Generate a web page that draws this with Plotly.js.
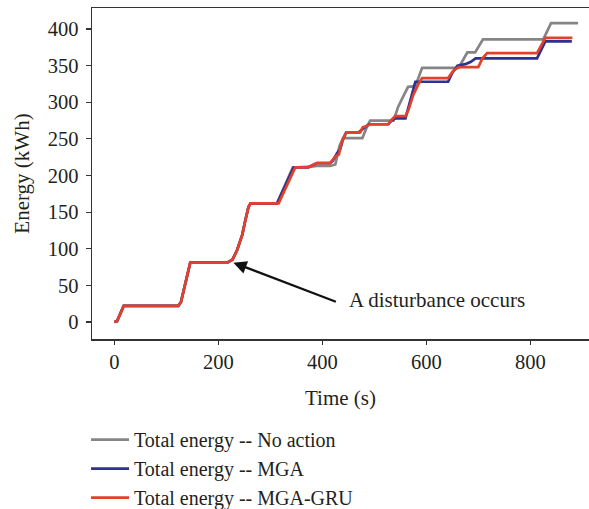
<!DOCTYPE html>
<html>
<head>
<meta charset="utf-8">
<script src="https://cdn.plot.ly/plotly-3.0.1.min.js"></script>
<style>html,body{margin:0;padding:0;background:#fff;}#chart{width:589px;height:509px;}</style>
</head>
<body>
<div id="chart"></div>
<script>
// Time (s) and energy (kWh)
const noActionT = [0, 5, 18, 123, 128, 146, 217, 227, 236, 246, 252, 258, 262, 313, 343, 373, 378, 390, 415, 425, 433, 440, 477, 485, 492, 537, 546, 555, 565, 579, 592, 662, 679, 694, 709, 825, 840, 892];
const noActionE = [0, 1, 22, 22, 27, 81, 81, 85, 98, 119, 139, 157, 162, 162, 211, 211, 212, 213, 213, 215, 240, 251, 251, 265, 275, 275, 294, 307, 321, 322, 347, 347, 368, 368, 386, 386, 408, 408];

const mgaT = [0, 5, 18, 123, 128, 146, 217, 227, 236, 246, 252, 258, 262, 313, 345, 373, 378, 390, 415, 420, 428, 435, 440, 446, 470, 476, 482, 490, 527, 533, 540, 560, 570, 579, 642, 650, 660, 675, 685, 695, 813, 829, 880];
const mgaE = [0, 1, 22, 22, 27, 81, 81, 85, 98, 119, 139, 157, 162, 162, 211, 211, 213, 217, 217, 220, 230, 237, 250, 259, 259, 263, 266, 270, 270, 275, 278, 278, 305, 328, 328, 340, 350, 352, 355, 360, 360, 383, 383];

const mgaGruT = [0, 5, 18, 123, 128, 146, 217, 227, 236, 246, 252, 258, 262, 316, 348, 373, 378, 390, 415, 420, 425, 432, 437, 446, 473, 478, 483, 492, 527, 533, 540, 560, 566, 575, 585, 592, 642, 652, 662, 700, 708, 717, 813, 829, 881];
const mgaGruE = [0, 1, 22, 22, 27, 81, 81, 85, 98, 119, 139, 157, 162, 162, 211, 211, 213, 217, 217, 221, 226, 229, 245, 259, 259, 266, 267, 270, 270, 276, 281, 281, 290, 310, 325, 333, 333, 343, 348, 348, 360, 367, 367, 388, 388];

const seriesNames = ["Total energy -- No action", "Total energy -- MGA", "Total energy -- MGA-GRU"];
const xTicks = [0, 200, 400, 600, 800];
const yTicks = [0, 50, 100, 150, 200, 250, 300, 350, 400];
const annotationText = "A disturbance occurs";
const arrowHead = [229, 81];
const arrowTail = [429, 27];
const textAt = [448, 30];

const FONT = "Liberation Serif, Times New Roman, serif";
const TXT = "#231f20";
const FS = 21;

const traces = [
  {x: noActionT, y: noActionE, name: seriesNames[0], mode: "lines", line: {color: "#858585", width: 2.7}},
  {x: mgaT, y: mgaE, name: seriesNames[1], mode: "lines", line: {color: "#2e3192", width: 2.7}},
  {x: mgaGruT, y: mgaGruE, name: seriesNames[2], mode: "lines", line: {color: "#e2412b", width: 2.7}}
];

const layout = {
  width: 589, height: 509,
  margin: {l: 92, r: 0, t: 8, b: 170, autoexpand: false},
  paper_bgcolor: "#ffffff", plot_bgcolor: "#ffffff",
  font: {family: FONT, size: FS, color: TXT},
  showlegend: true,
  legend: {x: -0.012, xanchor: "left", y: -0.245, yanchor: "top", orientation: "v", itemwidth: 38,
           font: {family: FONT, size: 20, color: TXT}, bgcolor: "rgba(0,0,0,0)", tracegroupgap: 0},
  xaxis: {
    range: [-43, 913], tickvals: xTicks, ticktext: xTicks.map(String),
    showgrid: false, zeroline: false, showline: true, linecolor: "#333333", linewidth: 1.5,
    mirror: false, ticks: "outside", ticklen: 4, tickwidth: 1.2, tickcolor: "#333333",
    tickfont: {family: FONT, size: 20.5, color: TXT},
    title: {text: "Time (s)", font: {family: FONT, size: FS, color: TXT}, standoff: 18}
  },
  xaxis2: {overlaying: "x", side: "top", showline: true, linecolor: "#333333", linewidth: 1.5,
           showticklabels: false, ticks: "", showgrid: false, zeroline: false, range: [-43, 913]},
  yaxis: {
    range: [-23.2, 428.7], tickvals: yTicks, ticktext: yTicks.map(String),
    showgrid: false, zeroline: false, showline: true, linecolor: "#333333", linewidth: 1.5,
    ticks: "outside", ticklen: 5, tickwidth: 1.2, tickcolor: "#333333", ticklabelstandoff: 3,
    tickfont: {family: FONT, size: 20.5, color: TXT},
    title: {text: "Energy (kWh)", font: {family: FONT, size: FS, color: TXT}, standoff: 12}
  },
  annotations: [
    {x: arrowHead[0], y: arrowHead[1], ax: arrowTail[0], ay: arrowTail[1], axref: "x", ayref: "y",
     xref: "x", yref: "y", text: "", showarrow: true, arrowhead: 2, arrowsize: 1.2, arrowwidth: 2.2,
     arrowcolor: "#111111", standoff: 0},
    {x: textAt[0], y: textAt[1], xref: "x", yref: "y", text: annotationText, showarrow: false,
     xanchor: "left", yanchor: "middle", font: {family: FONT, size: FS, color: TXT}}
  ]
};

// an invisible trace on the top axis so its frame line is drawn
traces.push({x: [0], y: [0], xaxis: "x2", yaxis: "y", mode: "markers", marker: {opacity: 0}, showlegend: false, hoverinfo: "skip"});

Plotly.newPlot("chart", traces, layout, {displayModeBar: false, staticPlot: true});
</script>
</body>
</html>
